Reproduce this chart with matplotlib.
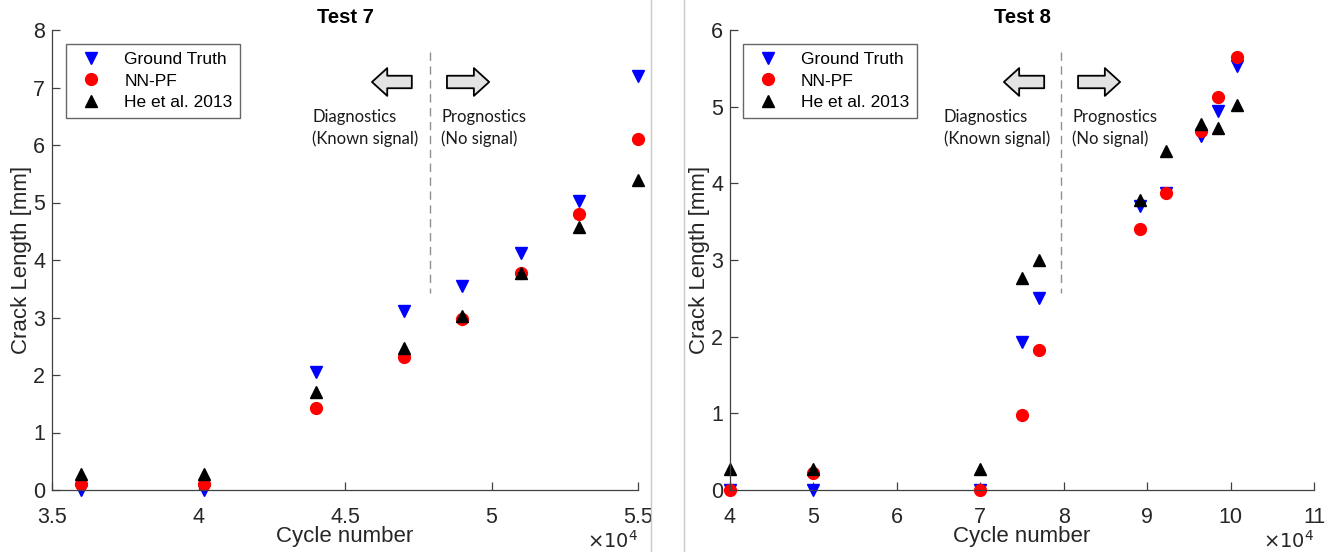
import numpy as np
import matplotlib.pyplot as plt
from matplotlib.ticker import FuncFormatter, MultipleLocator
from matplotlib.lines import Line2D

# Test 7 data
cyc7 = [36000, 40200, 44000, 47000, 49000, 51000, 53000, 55000]
gt7 = [0.0, 0.0, 2.05, 3.12, 3.55, 4.12, 5.03, 7.2]
nnpf7 = [0.1, 0.1, 1.42, 2.32, 2.97, 3.78, 4.8, 6.1]
he7 = [0.27, 0.27, 1.7, 2.47, 3.02, 3.77, 4.57, 5.4]

# Test 8 data
cyc8 = [40000, 50000, 70000, 75000, 77000, 89200, 92300, 96500, 98500, 100800]
gt8 = [0.0, 0.0, 0.0, 1.93, 2.5, 3.7, 3.88, 4.62, 4.95, 5.53]
nnpf8 = [0.0, 0.22, 0.0, 0.98, 1.82, 3.4, 3.87, 4.68, 5.13, 5.65]
he8 = [0.27, 0.27, 0.27, 2.77, 3.0, 3.78, 4.42, 4.77, 4.72, 5.02]

plt.rcParams['font.family'] = ['Liberation Sans', 'DejaVu Sans']
axcol = '#404040'

fig = plt.figure(figsize=(13.32, 5.52), dpi=100)
ax1 = fig.add_axes([52/1332, 62/552, 586/1332, 460/552])
ax2 = fig.add_axes([730/1332, 62/552, 584/1332, 460/552])


def panel(ax, x, gt, nn, he, title, xlim, ylim, split, xstep, leg_x, arr_l, arr_r, txt_l, txt_r):
    ax.plot(x, gt, 'v', color='blue', ms=8.5, ls='none', label='Ground Truth', clip_on=False)
    ax.plot(x, nn, 'o', color='red', ms=8.5, ls='none', label='NN-PF', clip_on=False)
    ax.plot(x, he, '^', color='black', ms=8.5, ls='none', label='He et al. 2013', clip_on=False)
    ax.set_xlim(xlim)
    ax.set_ylim(ylim)
    ax.xaxis.set_major_locator(MultipleLocator(xstep))
    ax.yaxis.set_major_locator(MultipleLocator(1))
    ax.xaxis.set_major_formatter(FuncFormatter(lambda v, p: f'{v/1e4:g}'))
    for s in ['top', 'right']:
        ax.spines[s].set_visible(False)
    for s in ['left', 'bottom']:
        ax.spines[s].set_color(axcol)
        ax.spines[s].set_linewidth(0.9)
    ax.tick_params(direction='in', length=6, width=0.9, colors=axcol, labelsize=15.5, labelcolor='#262626')
    ax.tick_params(axis='x', pad=12)
    ax.tick_params(axis='y', pad=5)
    ax.set_xlabel('Cycle number', fontsize=16, color='#262626', labelpad=-1)
    ax.set_ylabel('Crack Length [mm]', fontsize=16, color='#262626', labelpad=1)
    ax.set_title(title, fontsize=14.5, fontweight='bold', pad=5)
    ax.text(1.0, -0.11, r'$\times10^4$', transform=ax.transAxes, fontsize=14,
            color='#262626', ha='right', va='center')
    ax.plot([split, split], [ylim[1]*0.953, ylim[1]*0.428], ls=(0, (6, 4)), color='#909090', lw=1)
    leg = ax.legend(loc='upper left', bbox_to_anchor=(leg_x, 0.97), fontsize=12.5,
                    frameon=True, fancybox=False, edgecolor='#404040', handletextpad=0.9,
                    borderpad=0.45, labelspacing=0.38, handlelength=2.0, borderaxespad=0)
    leg.get_frame().set_linewidth(1.0)
    aprops = dict(arrowstyle='simple,head_length=0.55,head_width=1.0,tail_width=0.45',
                  fc='#e3e3e3', ec='black', lw=1.3, mutation_scale=20, shrinkA=0, shrinkB=0)
    ax.annotate('', xy=(arr_l[0], 0.887), xytext=(arr_l[1], 0.887),
                xycoords='axes fraction', arrowprops=aprops)
    ax.annotate('', xy=(arr_r[1], 0.887), xytext=(arr_r[0], 0.887),
                xycoords='axes fraction', arrowprops=aprops)
    ax.text(txt_l, 0.787, 'Diagnostics\n(Known signal)', transform=ax.transAxes,
            fontsize=12, family=['Lato', 'DejaVu Sans'], va='center', ha='left',
            linespacing=1.45, color='#1a1a1a')
    ax.text(txt_r, 0.787, 'Prognostics\n(No signal)', transform=ax.transAxes,
            fontsize=12, family=['Lato', 'DejaVu Sans'], va='center', ha='left',
            linespacing=1.45, color='#1a1a1a')


panel(ax1, cyc7, gt7, nnpf7, he7, 'Test 7', (35000, 55000), (0, 8), 47900, 5000,
      0.024, (0.546, 0.614), (0.674, 0.746), 0.444, 0.664)
panel(ax2, cyc8, gt8, nnpf8, he8, 'Test 8', (40000, 110000), (0, 6), 79700, 10000,
      0.022, (0.469, 0.538), (0.596, 0.668), 0.366, 0.586)

# divider lines between the two original images
fig.add_artist(Line2D([651/1332, 651/1332], [0, 1], color='#c8c8c8', lw=1))
fig.add_artist(Line2D([684/1332, 684/1332], [0, 1], color='#c8c8c8', lw=1))

fig.savefig('out.png', dpi=100)
